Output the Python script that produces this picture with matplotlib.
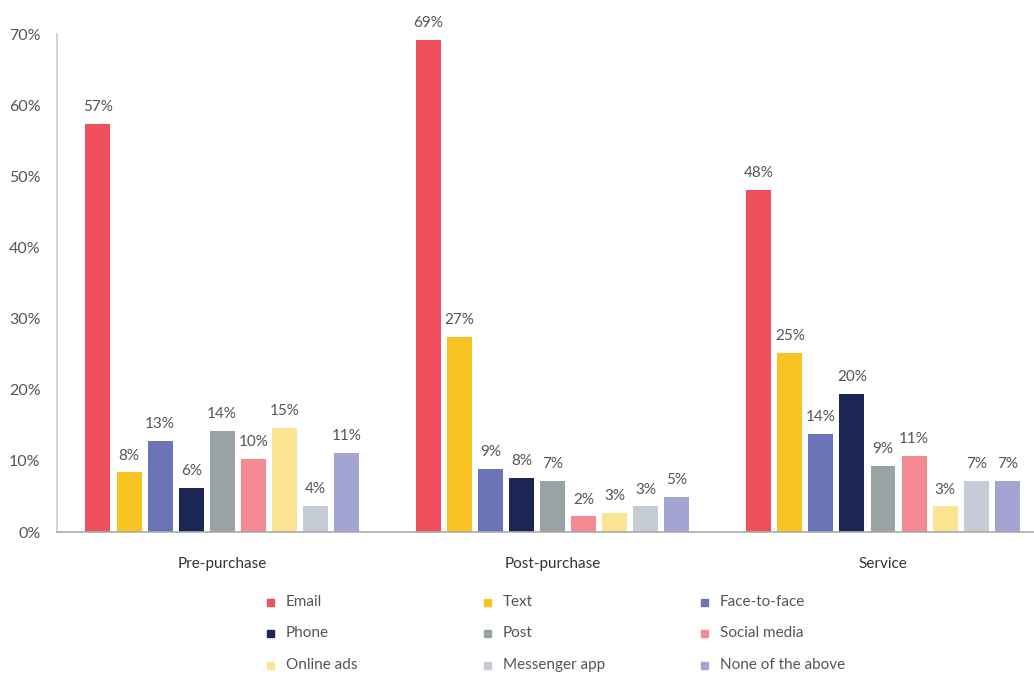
import matplotlib
matplotlib.use("Agg")
import matplotlib.pyplot as plt
from matplotlib.patches import Rectangle
import numpy as np

plt.rcParams['font.family'] = ['Lato', 'DejaVu Sans']

stages = ["Pre-purchase", "Post-purchase", "Service"]
channels = ["Email", "Text", "Face-to-face", "Phone", "Post", "Social media",
            "Online ads", "Messenger app", "None of the above"]
colors = ["#F0505E", "#F8C421", "#6B74B7", "#1B2654", "#99A3A4", "#F48B93",
          "#FBE494", "#C5CCD6", "#A3A4D1"]

# values[channel] = [pre, post, service]
values = {
    "Email":             [57.4, 69.2, 48.1],
    "Text":              [8.4, 27.4, 25.2],
    "Face-to-face":      [12.8, 8.9, 13.8],
    "Phone":             [6.2, 7.6, 19.4],
    "Post":              [14.2, 7.2, 9.3],
    "Social media":      [10.3, 2.2, 10.7],
    "Online ads":        [14.6, 2.7, 3.6],
    "Messenger app":     [3.7, 3.6, 7.2],
    "None of the above": [11.1, 4.9, 7.2],
}
labels = {
    "Email":             ["57%", "69%", "48%"],
    "Text":              ["8%", "27%", "25%"],
    "Face-to-face":      ["13%", "9%", "14%"],
    "Phone":             ["6%", "8%", "20%"],
    "Post":              ["14%", "7%", "9%"],
    "Social media":      ["10%", "2%", "11%"],
    "Online ads":        ["15%", "3%", "3%"],
    "Messenger app":     ["4%", "3%", "7%"],
    "None of the above": ["11%", "5%", "7%"],
}
yticks = [0, 10, 20, 30, 40, 50, 60, 70]
ytick_labels = ["0%", "10%", "20%", "30%", "40%", "50%", "60%", "70%"]

W, H = 1034, 675
fig = plt.figure(figsize=(W / 100, H / 100), dpi=100)
ax = fig.add_axes([57 / W, (H - 532) / H, (W - 57) / W, (532 - 34) / H])

x = np.arange(len(stages))
step = 0.094
width = 0.0756
n = len(channels)
txt_color = "#555555"
for i, ch in enumerate(channels):
    off = (i - (n - 1) / 2) * step
    bars = ax.bar(x + off, values[ch], width=width, color=colors[i], zorder=2)
    for b, lab in zip(bars, labels[ch]):
        ax.annotate(lab, (b.get_x() + b.get_width() / 2, b.get_height()),
                    xytext=(0, 7), textcoords="offset points",
                    ha="center", va="bottom", fontsize=11, color=txt_color)

ax.set_xlim(-0.5, 2.457)
ax.set_ylim(0, 70)
ax.set_yticks(yticks)
ax.set_yticklabels(ytick_labels, fontsize=11.5, color=txt_color)
ax.set_xticks(x)
ax.set_xticklabels(stages, fontsize=11, color="#333333")
ax.tick_params(axis="y", length=0, pad=12)
ax.tick_params(axis="x", length=0, pad=18)
for s in ["top", "right"]:
    ax.spines[s].set_visible(False)
ax.spines["left"].set_color("#cccccc")
ax.spines["bottom"].set_color("#aaaaaa")
ax.spines["left"].set_linewidth(1.2)
ax.spines["bottom"].set_linewidth(1.2)

# legend: 3 columns, row-major
col_x = [270, 487, 704]
row_y = [602, 633, 665]
msz = 7
for i, ch in enumerate(channels):
    r, c = divmod(i, 3)
    mx, my = col_x[c], row_y[r]
    fig.add_artist(Rectangle(((mx - msz / 2) / W, (H - my - msz / 2) / H), msz / W, msz / H,
                             transform=fig.transFigure, color=colors[i]))
    fig.text((mx + 16) / W, (H - my) / H, ch, fontsize=11, color=txt_color,
             ha="left", va="center")

fig.savefig("out.png", dpi=100)
